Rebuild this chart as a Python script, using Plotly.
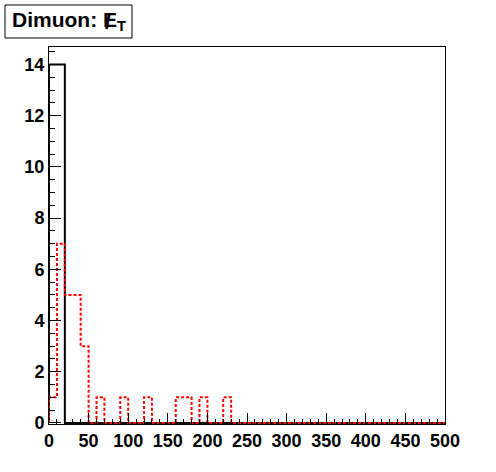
import plotly.graph_objects as go

# Histogram data (bin width 10, range 0-500)
bin_edges = list(range(0, 510, 10))
black_counts = [14, 14] + [0] * 48
red_counts = [1, 7, 5, 5, 3, 0, 1, 0, 0, 1, 0, 0, 1, 0, 0, 0, 1, 1, 0, 1, 0, 0, 1] + [0] * 27

x_ticks = list(range(0, 550, 50))
y_ticks = list(range(0, 16, 2))


def step_xy(edges, counts):
    xs = [edges[0]] + list(edges)
    ys = [0] + list(counts) + [0]
    return xs, ys


fig = go.Figure()
bx, by = step_xy(bin_edges, black_counts)
rx, ry = step_xy(bin_edges, red_counts)
fig.add_trace(go.Scatter(x=bx, y=by, mode="lines", line_shape="hv",
                         line=dict(color="black", width=2), showlegend=False))
fig.add_trace(go.Scatter(x=rx, y=ry, mode="lines", line_shape="hv",
                         line=dict(color="#ff0000", width=2, dash="3px,2px"), showlegend=False))

tickfont = dict(family="Liberation Sans", size=18, color="black", weight="bold")

W, H = 496, 472
L, R, T, B = 49, 51, 47, 48
pw, ph = W - L - R, H - T - B


def px(xp):
    return (xp - L) / pw


def py(yp):
    return (H - B - yp) / ph


fig.update_layout(
    width=W, height=H,
    margin=dict(l=L, r=R, t=T, b=B, autoexpand=False),
    paper_bgcolor="white", plot_bgcolor="white",
    xaxis=dict(range=[0, 500], tickvals=x_ticks, ticktext=[str(v) for v in x_ticks],
               ticks="inside", ticklen=11, tickcolor="black", tickwidth=1,
               minor=dict(dtick=10, ticks="inside", ticklen=5, tickcolor="black"),
               showline=True, linecolor="black", linewidth=1, mirror=True,
               showgrid=False, zeroline=False, tickfont=tickfont, automargin=False),
    yaxis=dict(range=[-0.04, 14.68], tickvals=y_ticks, ticktext=[str(v) for v in y_ticks],
               ticks="inside", ticklen=12, tickcolor="black", tickwidth=1,
               minor=dict(dtick=0.5, ticks="inside", ticklen=6, tickcolor="black"),
               showline=True, linecolor="black", linewidth=1, mirror=True,
               showgrid=False, zeroline=False, tickfont=tickfont, automargin=False),
    shapes=[dict(type="rect", xref="paper", yref="paper",
                 x0=px(5), x1=px(132), y0=py(38), y1=py(5),
                 line=dict(color="black", width=1), fillcolor="white", layer="above")],
    annotations=[
        dict(text="Dimuon: E<sub>T</sub>", xref="paper", yref="paper",
             x=px(10), y=py(21.5), xanchor="left", yanchor="middle",
             showarrow=False,
             font=dict(family="Liberation Sans", size=21, color="black", weight="bold")),
        dict(text="/", xref="paper", yref="paper",
             x=px(108), y=py(21), xanchor="center", yanchor="middle",
             showarrow=False,
             font=dict(family="Liberation Sans", size=21, color="black", weight="bold")),
    ],
)

fig.write_html("out.html", config={"displayModeBar": False},
               post_script="document.body.style.margin='0';")
